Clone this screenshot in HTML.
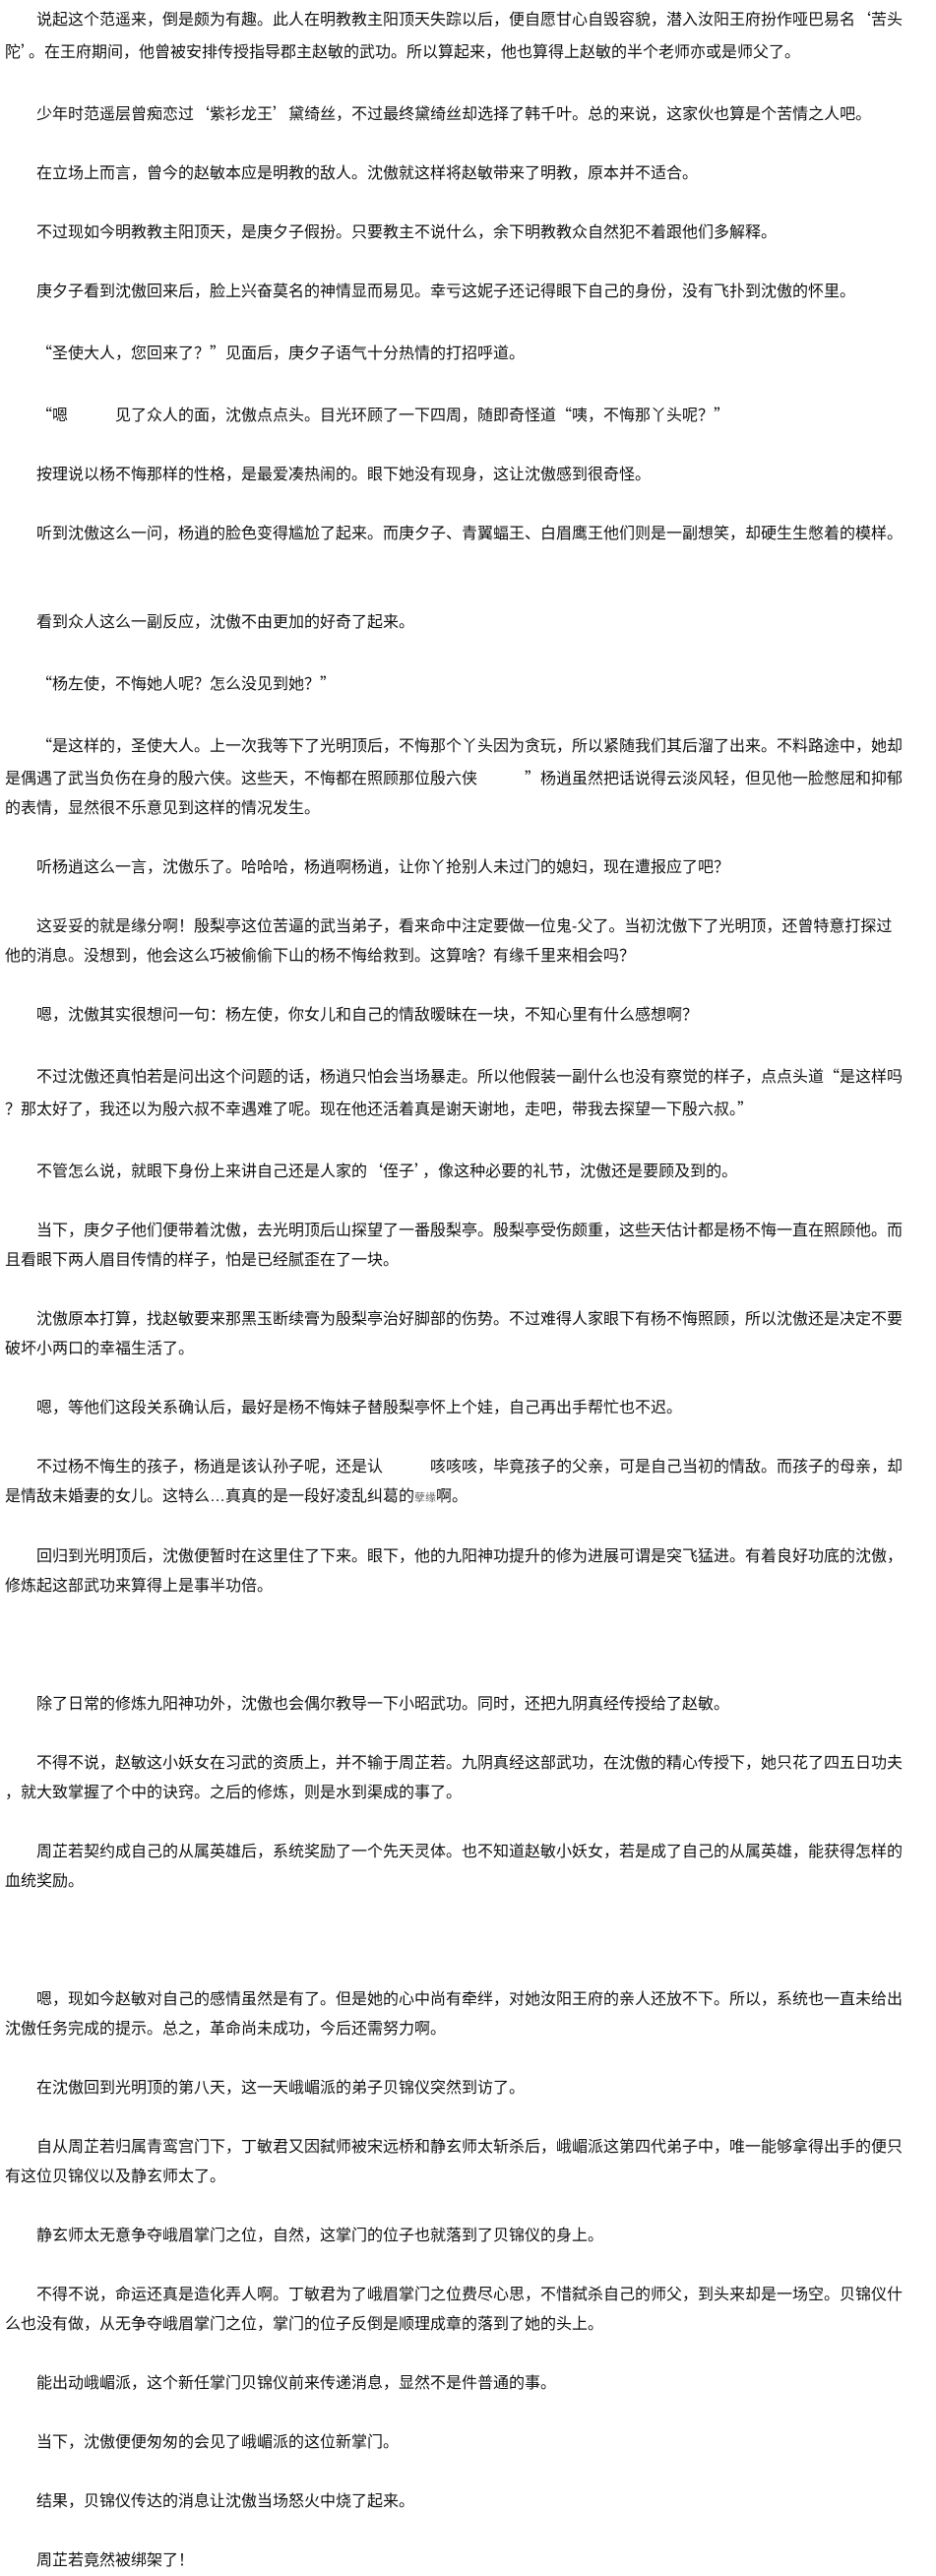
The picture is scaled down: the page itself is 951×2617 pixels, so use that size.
<!DOCTYPE html>
<html>
<head>
<meta charset="utf-8">
<style>
html,body{margin:0;padding:0;background:#fff;}
body{width:951px;height:2584px;overflow:hidden;padding:3px 0 0 5px;box-sizing:border-box;
font-family:"Liberation Sans","Noto Sans CJK SC",sans-serif;font-size:16px;color:#111;}
p{margin:0 0 30px 0;line-height:30px;text-indent:32px;white-space:nowrap;}
i{font-style:normal;font-family:"Noto Sans CJK SC",sans-serif;}
.g1{height:30px;}
.g2{height:60px;}
</style>
</head>
<body>
<p>说起这个范遥来，倒是颇为有趣。此人在明教教主阳顶天失踪以后，便自愿甘心自毁容貌，潜入汝阳王府扮作哑巴易名<i>‘</i>苦头<br>陀<i>’</i>。在王府期间，他曾被安排传授指导郡主赵敏的武功。所以算起来，他也算得上赵敏的半个老师亦或是师父了。</p>
<p>少年时范遥层曾痴恋过<i>‘</i>紫衫龙王<i>’</i>黛绮丝，不过最终黛绮丝却选择了韩千叶。总的来说，这家伙也算是个苦情之人吧。</p>
<p>在立场上而言，曾今的赵敏本应是明教的敌人。沈傲就这样将赵敏带来了明教，原本并不适合。</p>
<p>不过现如今明教教主阳顶天，是庚夕子假扮。只要教主不说什么，余下明教教众自然犯不着跟他们多解释。</p>
<p>庚夕子看到沈傲回来后，脸上兴奋莫名的神情显而易见。幸亏这妮子还记得眼下自己的身份，没有飞扑到沈傲的怀里。</p>
<p><i>“</i>圣使大人，您回来了？<i>”</i>见面后，庚夕子语气十分热情的打招呼道。</p>
<p><i>“</i>嗯&emsp;&emsp;&emsp;见了众人的面，沈傲点点头。目光环顾了一下四周，随即奇怪道<i>“</i>咦，不悔那丫头呢？<i>”</i></p>
<p>按理说以杨不悔那样的性格，是最爱凑热闹的。眼下她没有现身，这让沈傲感到很奇怪。</p>
<p>听到沈傲这么一问，杨逍的脸色变得尴尬了起来。而庚夕子、青翼蝠王、白眉鹰王他们则是一副想笑，却硬生生憋着的模样。</p>
<div class="g1"></div>
<p>看到众人这么一副反应，沈傲不由更加的好奇了起来。</p>
<p><i>“</i>杨左使，不悔她人呢？怎么没见到她？<i>”</i></p>
<p><i>“</i>是这样的，圣使大人。上一次我等下了光明顶后，不悔那个丫头因为贪玩，所以紧随我们其后溜了出来。不料路途中，她却<br>是偶遇了武当负伤在身的殷六侠。这些天，不悔都在照顾那位殷六侠&emsp;&emsp;&emsp;<i>”</i>杨逍虽然把话说得云淡风轻，但见他一脸憋屈和抑郁<br>的表情，显然很不乐意见到这样的情况发生。</p>
<p>听杨逍这么一言，沈傲乐了。哈哈哈，杨逍啊杨逍，让你丫抢别人未过门的媳妇，现在遭报应了吧？</p>
<p>这妥妥的就是缘分啊！殷梨亭这位苦逼的武当弟子，看来命中注定要做一位鬼-父了。当初沈傲下了光明顶，还曾特意打探过<br>他的消息。没想到，他会这么巧被偷偷下山的杨不悔给救到。这算啥？有缘千里来相会吗？</p>
<p>嗯，沈傲其实很想问一句：杨左使，你女儿和自己的情敌暧昧在一块，不知心里有什么感想啊？</p>
<p>不过沈傲还真怕若是问出这个问题的话，杨逍只怕会当场暴走。所以他假装一副什么也没有察觉的样子，点点头道<i>“</i>是这样吗<br>？那太好了，我还以为殷六叔不幸遇难了呢。现在他还活着真是谢天谢地，走吧，带我去探望一下殷六叔。<i>”</i></p>
<p>不管怎么说，就眼下身份上来讲自己还是人家的<i>‘</i>侄子<i>’</i>，像这种必要的礼节，沈傲还是要顾及到的。</p>
<p>当下，庚夕子他们便带着沈傲，去光明顶后山探望了一番殷梨亭。殷梨亭受伤颇重，这些天估计都是杨不悔一直在照顾他。而<br>且看眼下两人眉目传情的样子，怕是已经腻歪在了一块。</p>
<p>沈傲原本打算，找赵敏要来那黑玉断续膏为殷梨亭治好脚部的伤势。不过难得人家眼下有杨不悔照顾，所以沈傲还是决定不要<br>破坏小两口的幸福生活了。</p>
<p>嗯，等他们这段关系确认后，最好是杨不悔妹子替殷梨亭怀上个娃，自己再出手帮忙也不迟。</p>
<p>不过杨不悔生的孩子，杨逍是该认孙子呢，还是认&emsp;&emsp;&emsp;咳咳咳，毕竟孩子的父亲，可是自己当初的情敌。而孩子的母亲，却<br>是情敌未婚妻的女儿。这特么…真真的是一段好凌乱纠葛的<span style="font-size:11px;color:#666">孽缘</span>啊。</p>
<p>回归到光明顶后，沈傲便暂时在这里住了下来。眼下，他的九阳神功提升的修为进展可谓是突飞猛进。有着良好功底的沈傲，<br>修炼起这部武功来算得上是事半功倍。</p>
<div class="g2"></div>
<p>除了日常的修炼九阳神功外，沈傲也会偶尔教导一下小昭武功。同时，还把九阴真经传授给了赵敏。</p>
<p>不得不说，赵敏这小妖女在习武的资质上，并不输于周芷若。九阴真经这部武功，在沈傲的精心传授下，她只花了四五日功夫<br>，就大致掌握了个中的诀窍。之后的修炼，则是水到渠成的事了。</p>
<p>周芷若契约成自己的从属英雄后，系统奖励了一个先天灵体。也不知道赵敏小妖女，若是成了自己的从属英雄，能获得怎样的<br>血统奖励。</p>
<div class="g2"></div>
<p>嗯，现如今赵敏对自己的感情虽然是有了。但是她的心中尚有牵绊，对她汝阳王府的亲人还放不下。所以，系统也一直未给出<br>沈傲任务完成的提示。总之，革命尚未成功，今后还需努力啊。</p>
<p>在沈傲回到光明顶的第八天，这一天峨嵋派的弟子贝锦仪突然到访了。</p>
<p>自从周芷若归属青鸾宫门下，丁敏君又因弑师被宋远桥和静玄师太斩杀后，峨嵋派这第四代弟子中，唯一能够拿得出手的便只<br>有这位贝锦仪以及静玄师太了。</p>
<p>静玄师太无意争夺峨眉掌门之位，自然，这掌门的位子也就落到了贝锦仪的身上。</p>
<p>不得不说，命运还真是造化弄人啊。丁敏君为了峨眉掌门之位费尽心思，不惜弑杀自己的师父，到头来却是一场空。贝锦仪什<br>么也没有做，从无争夺峨眉掌门之位，掌门的位子反倒是顺理成章的落到了她的头上。</p>
<p>能出动峨嵋派，这个新任掌门贝锦仪前来传递消息，显然不是件普通的事。</p>
<p>当下，沈傲便便匆匆的会见了峨嵋派的这位新掌门。</p>
<p>结果，贝锦仪传达的消息让沈傲当场怒火中烧了起来。</p>
<p>周芷若竟然被绑架了！</p>
</body>
</html>
